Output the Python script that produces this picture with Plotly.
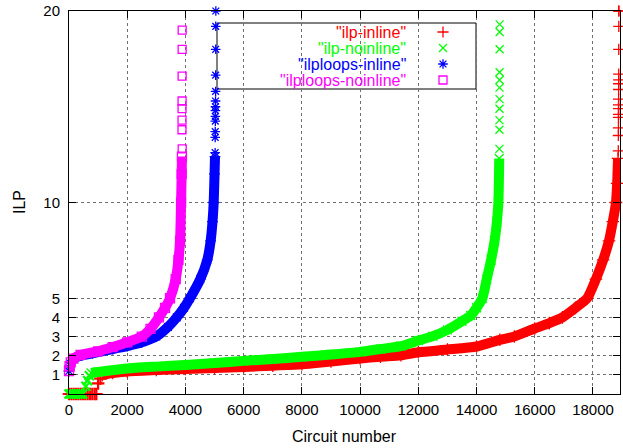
import plotly.graph_objects as go

# ---------------- data ----------------
# ilp-inline (red)
ilp_inline_low_x = [0, 80, 160, 240, 320, 400, 480, 560, 640, 720, 800, 880, 940, 1000, 1080]
ilp_inline_low_y = [0, 0, 0, 0, 0, 0, 0, 0, 0, 0, 0, 0, 0, 0.55, 0.8]
ilp_inline_band_x = [1150, 1500, 2000, 3000, 4000, 5000, 6000, 7000, 8000, 9000, 10000, 10700,
                     11400, 12000, 13000, 14000, 14800, 15300, 16000, 16500, 16950, 17400, 17800,
                     18100, 18350, 18550, 18680, 18790, 18830, 18860]
ilp_inline_band_y = [1.0, 1.1, 1.18, 1.25, 1.31, 1.36, 1.41, 1.48, 1.55, 1.7, 1.85, 1.95,
                     2.02, 2.18, 2.32, 2.48, 2.83, 3.0, 3.42, 3.7, 4.0, 4.5, 5.0,
                     6.0, 7.0, 8.0, 9.0, 10.0, 11.0, 12.3]
ilp_inline_tail_x = [18870, 18872, 18874, 18876, 18877, 18878, 18879, 18880, 18881, 18882, 18883,
                     18884, 18885, 18886, 18887, 18888]
ilp_inline_tail_y = [12.7, 13.5, 13.9, 14.45, 14.6, 14.9, 15.1, 15.4, 15.9, 16.2, 16.4,
                     16.7, 18.0, 19.2, 20.0, 20.0]

# ilp-noinline (green)
ilp_noinline_low_x = [0, 60, 120, 180, 240, 300, 360, 420, 470, 580, 640, 700]
ilp_noinline_low_y = [0, 0, 0, 0, 0, 0, 0, 0, 0, 0.4, 0.7, 0.95]
ilp_noinline_band_x = [760, 1000, 2000, 3000, 4000, 5000, 6000, 7000, 8000, 9000, 10000, 10700,
                       11400, 12000, 12500, 13000, 13500, 13800, 14000, 14200, 14350, 14500,
                       14620, 14700, 14750, 14780]
ilp_noinline_band_y = [1.1, 1.15, 1.33, 1.43, 1.52, 1.62, 1.73, 1.83, 1.94, 2.06, 2.2, 2.35,
                       2.5, 2.79, 3.02, 3.35, 3.8, 4.1, 4.5, 5.0, 6.0, 7.0,
                       8.0, 9.0, 10.0, 12.3]
ilp_noinline_tail_x = [14785, 14786, 14787, 14788, 14789, 14790, 14791, 14792, 14793, 14794, 14795]
ilp_noinline_tail_y = [12.8, 13.8, 14.3, 14.9, 15.4, 16.0, 16.4, 16.8, 18.0, 18.9, 19.3]

# ilploops-inline (blue)
ilploops_inline_band_x = [0, 30, 100, 300, 800, 1500, 2000, 2500, 3000, 3400, 3700, 3950, 4155,
                          4510, 4750, 4866, 4930, 4970, 5000, 5015]
ilploops_inline_band_y = [1.2, 1.5, 1.75, 1.95, 2.12, 2.35, 2.5, 2.7, 3.0, 3.5, 4.0, 4.5, 5.0,
                          6.0, 7.0, 8.0, 9.0, 10.0, 11.5, 12.4]
ilploops_inline_tail_x = [5020, 5022, 5024, 5026, 5028, 5030, 5032, 5034, 5036, 5038, 5040, 5042, 5044]
ilploops_inline_tail_y = [12.6, 13.4, 13.7, 14.25, 14.5, 14.8, 15.0, 15.3, 15.8, 16.65, 18.0, 19.2, 20.0]

# ilploops-noinline (magenta)
ilploops_noinline_band_x = [0, 20, 60, 150, 400, 1000, 1500, 2000, 2500, 2800, 3090, 3300, 3470,
                            3665, 3760, 3815, 3850, 3870, 3880]
ilploops_noinline_band_y = [1.2, 1.45, 1.65, 1.85, 2.04, 2.23, 2.45, 2.7, 3.0, 3.4, 4.0, 4.5, 5.0,
                            6.0, 7.0, 8.0, 10.0, 11.5, 12.4]
ilploops_noinline_tail_x = [3882, 3883, 3884, 3885, 3886, 3887, 3888, 3889]
ilploops_noinline_tail_y = [13.8, 14.3, 14.9, 15.3, 16.6, 18.0, 19.0, 12.8]

series_names = ['"ilp-inline"', '"ilp-noinline"', '"ilploops-inline"', '"ilploops-noinline"']
series_colors = ['#ff0000', '#00ff00', '#0000ff', '#ff00ff']
series_symbols = ['cross-thin', 'x-thin', 'asterisk', 'square-open']

y_tickvals = [1, 2, 3, 4, 5, 10, 20]
y_ticktext = ['1', '2', '3', '4', '5', '10', '20']
x_tickvals = [0, 2000, 4000, 6000, 8000, 10000, 12000, 14000, 16000, 18000]
x_ticktext = ['0', '2000', '4000', '6000', '8000', '10000', '12000', '14000', '16000', '18000']

# -------------------------------------------------------------------------
FONT = "Liberation Sans, Arial, Helvetica, sans-serif"

series_data = [
    (ilp_inline_low_x, ilp_inline_low_y, ilp_inline_band_x, ilp_inline_band_y, ilp_inline_tail_x, ilp_inline_tail_y),
    (ilp_noinline_low_x, ilp_noinline_low_y, ilp_noinline_band_x, ilp_noinline_band_y, ilp_noinline_tail_x, ilp_noinline_tail_y),
    ([], [], ilploops_inline_band_x, ilploops_inline_band_y, ilploops_inline_tail_x, ilploops_inline_tail_y),
    ([], [], ilploops_noinline_band_x, ilploops_noinline_band_y, ilploops_noinline_tail_x, ilploops_noinline_tail_y),
]

fig = go.Figure()


def mk(color, symbol, size=8, lw=1.3):
    return dict(symbol=symbol, size=size, color=color, line=dict(color=color, width=lw))


for name, color, symbol, (lx, ly, bx, by, tx, ty) in zip(series_names, series_colors, series_symbols, series_data):
    if lx:
        fig.add_trace(go.Scatter(x=lx, y=ly, mode='markers', marker=mk(color, symbol, 9, 2.2),
                                 cliponaxis=False, showlegend=False, hoverinfo='skip'))
    fig.add_trace(go.Scatter(x=bx, y=by, mode='lines+markers',
                             line=dict(color=color, width=10, shape='spline', smoothing=0.6),
                             marker=mk(color, symbol, 9), cliponaxis=False, showlegend=False,
                             hoverinfo='skip'))
    fig.add_trace(go.Scatter(x=tx, y=ty, mode='markers', marker=mk(color, symbol, 8),
                             cliponaxis=False, showlegend=False, hoverinfo='skip'))

# ---------------- geometry ----------------
W, H = 623, 448
PLOT_L, PLOT_T, PLOT_R, PLOT_B = 69, 11, 620, 394      # plot frame in pixels
L, T, R, B = PLOT_L, PLOT_T, W - PLOT_R, H - PLOT_B
PW, PH = PLOT_R - PLOT_L, PLOT_B - PLOT_T


def px_x(p):
    return (p - PLOT_L) / PW


def px_y(p):
    return (PLOT_B - p) / PH


key_text_right = 408
key_marker_x = 443
key_rows = [32, 48, 64, 80]

fig.add_shape(type='rect', xref='paper', yref='paper', x0=px_x(217), x1=px_x(476),
              y0=px_y(89), y1=px_y(23), line=dict(color='black', width=1),
              fillcolor='white', layer='between')

for name, color, symbol, row in zip(series_names, series_colors, series_symbols, key_rows):
    fig.add_annotation(x=px_x(key_text_right), y=px_y(row), xref='paper', yref='paper',
                       text=name, showarrow=False, xanchor='right', yanchor='middle',
                       font=dict(family=FONT, size=16, color=color))
    fig.add_trace(go.Scatter(x=[px_x(key_marker_x)], y=[px_y(row)], xaxis='x2', yaxis='y2',
                             mode='markers', marker=mk(color, symbol, 8),
                             showlegend=False, hoverinfo='skip', cliponaxis=False))

# axis titles
fig.add_annotation(x=0.5, y=0, xref='paper', yref='paper', text='Circuit number',
                   showarrow=False, xanchor='center', yanchor='middle', yshift=-42,
                   font=dict(family=FONT, size=16, color='black'))
fig.add_annotation(x=0, y=px_y(202), xref='paper', yref='paper', text='ILP',
                   showarrow=False, xanchor='center', yanchor='middle', xshift=-50,
                   textangle=-90, font=dict(family=FONT, size=16, color='black'))

axis_common = dict(showline=True, linecolor='black', linewidth=1, mirror='allticks',
                   ticks='inside', ticklen=7, tickcolor='black', tickwidth=1,
                   showgrid=True, gridcolor='#707070', griddash='dot', gridwidth=1,
                   zeroline=False, tickfont=dict(family=FONT, size=15, color='black'))

fig.update_layout(
    width=W, height=H,
    margin=dict(l=L, r=R, t=T, b=B),
    paper_bgcolor='white', plot_bgcolor='white',
    showlegend=False,
    xaxis=dict(range=[0, 18928], tickvals=x_tickvals, ticktext=x_ticktext,
               ticklabelstandoff=2, **axis_common),
    yaxis=dict(range=[0, 20], tickvals=y_tickvals, ticktext=y_ticktext,
               ticklabelstandoff=5, **axis_common),
    xaxis2=dict(overlaying='x', range=[0, 1], visible=False, fixedrange=True),
    yaxis2=dict(overlaying='y', range=[0, 1], visible=False, fixedrange=True),
)

# remove the browser's default 8px page margin so the 623x448 figure fills the window exactly
fig.write_html("out.html", config={'displayModeBar': False},
               post_script="document.body.style.margin='0';document.body.style.overflow='hidden';")
